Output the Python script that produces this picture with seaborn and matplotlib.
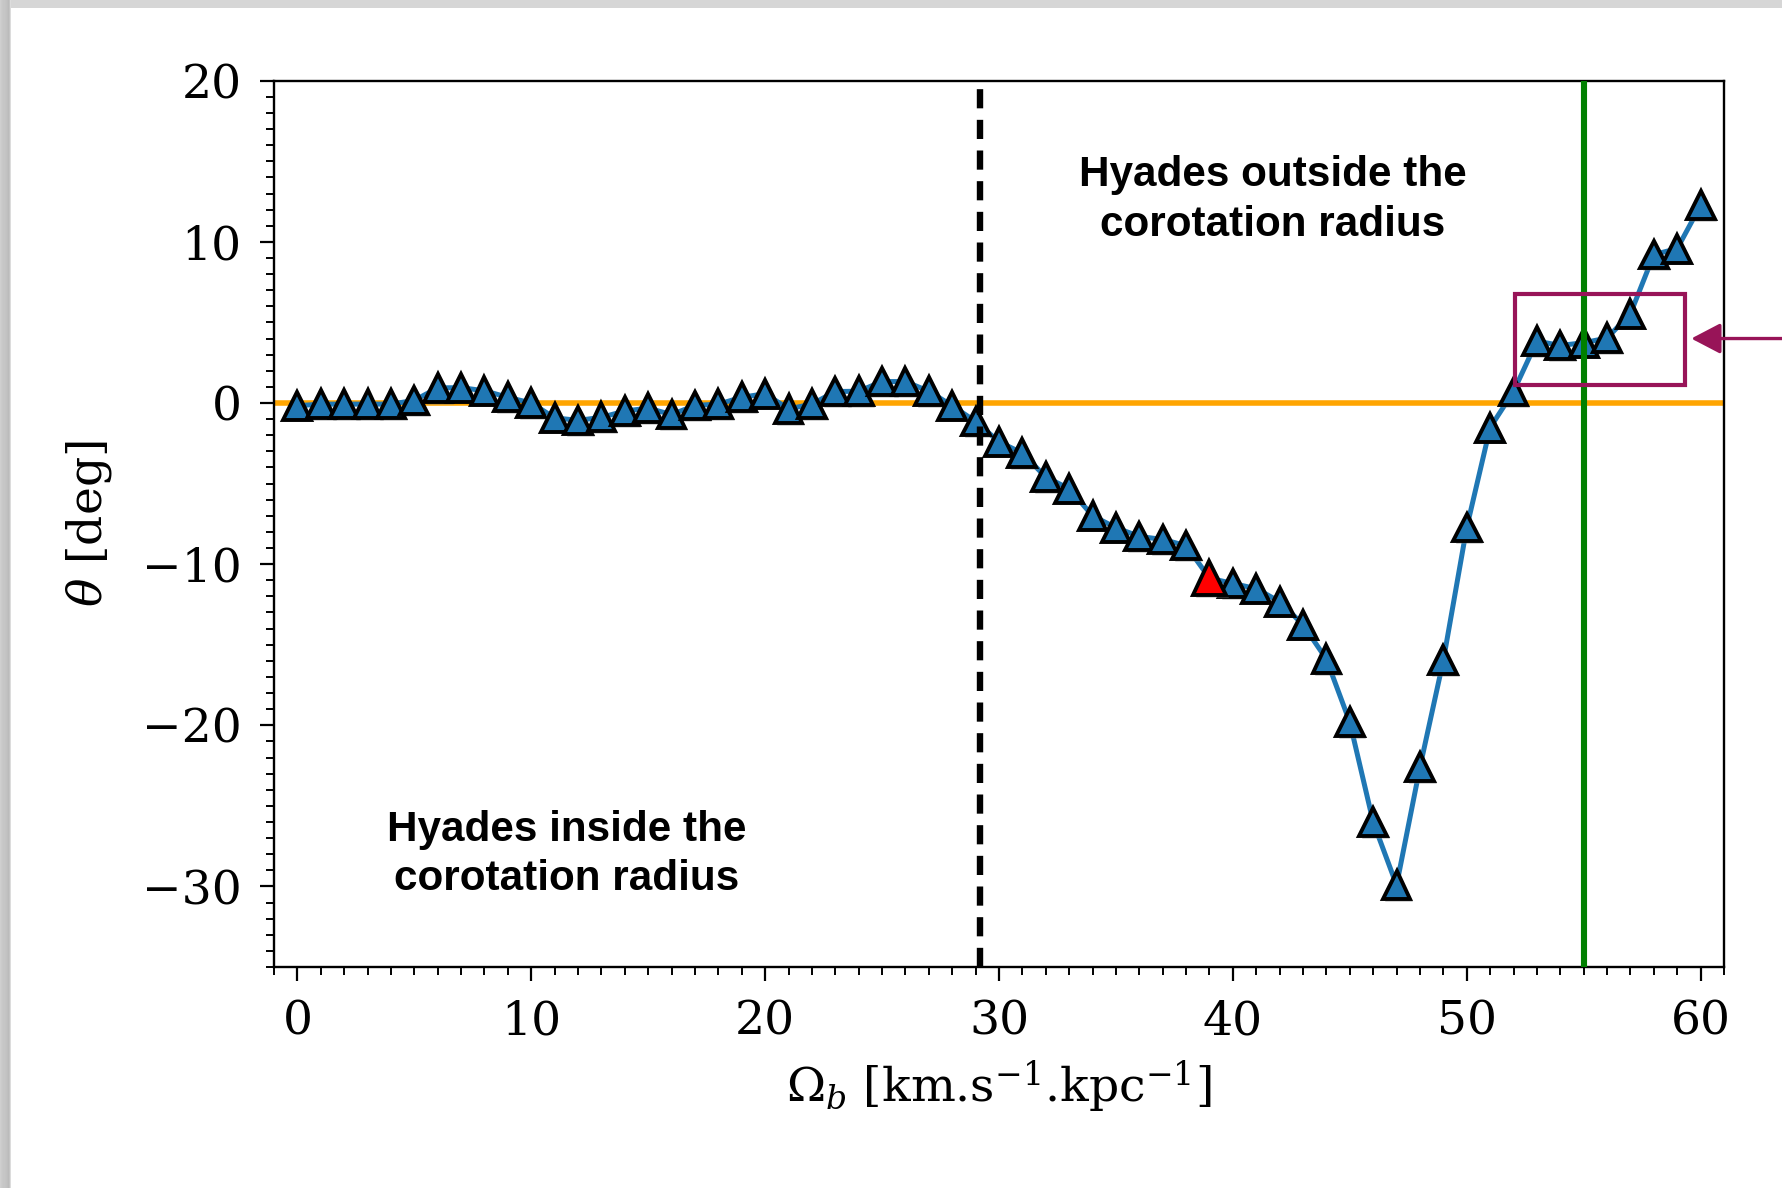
import matplotlib
matplotlib.use("Agg")
import numpy as np
import pandas as pd
import seaborn as sns
import matplotlib.pyplot as plt
import matplotlib.patheffects as pe
from matplotlib.patches import Rectangle
from matplotlib.ticker import MultipleLocator

# Pattern speed of the bar (km/s/kpc) and resulting angle theta (deg)
omega_b = list(range(61))
theta = [-0.17, -0.07, -0.07, -0.07, -0.07, 0.16, 0.94, 0.95, 0.76, 0.35,
         0.0, -0.92, -1.08, -0.89, -0.5, -0.32, -0.72, -0.15, -0.07, 0.35,
         0.58, -0.37, -0.07, 0.71, 0.73, 1.33, 1.33, 0.73, -0.17, -1.15,
         -2.41, -3.11, -4.6, -5.32, -7.0, -7.74, -8.28, -8.47, -8.85, -10.87,
         -11.2, -11.52, -12.33, -13.76, -15.9, -19.81, -26.01, -29.92, -22.6, -15.97,
         -7.73, -1.53, 0.71, 3.84, 3.57, 3.74, 4.03, 5.54, 9.21, 9.58,
         12.27]

highlight_omega = [39]
highlight_theta = [-10.87]

corotation_omega = 29.17
reference_omega = 55.0

# highlighted plateau region
box_x = [52.05, 59.35]
box_y = [1.13, 6.77]
arrow_tip = (59.6, 4.0)

df = pd.DataFrame({"omega": omega_b, "theta": theta})
hl = pd.DataFrame({"omega": highlight_omega, "theta": highlight_theta})

sns.set_style("ticks")
plt.rcParams["font.family"] = ["DejaVu Serif"]
plt.rcParams["mathtext.fontset"] = "dejavuserif"
plt.rcParams["axes.edgecolor"] = "black"
plt.rcParams["xtick.color"] = "black"
plt.rcParams["ytick.color"] = "black"
plt.rcParams["axes.labelcolor"] = "black"
plt.rcParams["text.color"] = "black"

W, H = 1782, 1188
fig = plt.figure(figsize=(W / 200, H / 200), dpi=200)
ax = fig.add_axes([274 / W, 1 - 967 / H, (1724 - 274) / W, (967 - 80.7) / H])

maroon = "#981458"
blue = "#1f77b4"
shadow = [pe.SimplePatchShadow(offset=(1.0, -1.0), shadow_rgbFace="gray", alpha=0.35),
          pe.Normal()]

ax.axhline(0, color="orange", lw=2.0, zorder=1)

sns.lineplot(data=df, x="omega", y="theta", ax=ax, color=blue, lw=1.8,
             zorder=2, legend=False)
sns.lineplot(data=df, x="omega", y="theta", ax=ax, color=blue, linestyle="none",
             marker="^", ms=10, mfc=blue, mec="black", mew=1.4,
             path_effects=shadow, zorder=3, legend=False)
sns.lineplot(data=hl, x="omega", y="theta", ax=ax, color="red", linestyle="none",
             marker="^", ms=12, mfc="red", mec="black", mew=1.4,
             path_effects=shadow, zorder=3.5, legend=False)

ax.axvline(corotation_omega, color="black", lw=2.3, ls=(0, (3.0, 1.8)), zorder=4)
ax.axvline(reference_omega, color="green", lw=2.2, zorder=4)

ax.add_patch(Rectangle((box_x[0], box_y[0]), box_x[1] - box_x[0], box_y[1] - box_y[0],
                       fill=False, ec=maroon, lw=1.5, zorder=5))
ax.annotate("", xy=arrow_tip, xytext=(66.0, arrow_tip[1]),
            arrowprops=dict(arrowstyle="-|>,head_length=0.9,head_width=0.47",
                            color=maroon, lw=1.2, shrinkA=0, shrinkB=0),
            annotation_clip=False, zorder=6)

txt_kw = dict(ha="center", va="center", fontsize=15.2, fontweight="bold",
              family=["Liberation Sans", "DejaVu Sans"], linespacing=1.3)
ax.text(41.7, 12.6, "Hyades outside the\ncorotation radius", **txt_kw)
ax.text(11.5, -28.0, "Hyades inside the\ncorotation radius", **txt_kw)

ax.set_xlim(-1, 61)
ax.set_ylim(-35, 20)
ax.xaxis.set_major_locator(MultipleLocator(10))
ax.yaxis.set_major_locator(MultipleLocator(10))
ax.xaxis.set_minor_locator(MultipleLocator(1))
ax.yaxis.set_minor_locator(MultipleLocator(1))
ax.tick_params(which="major", direction="out", length=4.9, width=0.8,
               labelsize=17, pad=6.7)
ax.tick_params(which="minor", direction="out", length=2.8, width=0.7)
ax.tick_params(which="both", top=False, right=False)
for s in ax.spines.values():
    s.set_linewidth(0.85)
    s.set_color("black")

ax.set_xlabel(r"$\Omega_b$ [km.s$^{-1}$.kpc$^{-1}$]", fontsize=17, labelpad=5)
ax.set_ylabel(r"$\theta$ [deg]", fontsize=17, labelpad=10)

# window frame edges
fig.patches.append(Rectangle((0, 1 - 8 / H), 1, 8 / H, transform=fig.transFigure,
                             color="#d6d6d6", lw=0, zorder=-1))
for i, c in enumerate(["#cfcfcf", "#cbcbcb", "#c8c8c8", "#c6c6c6", "#c6c6c6",
                       "#c4c4c4", "#c2c2c2", "#bfbfbf", "#bbbbbb", "#c4c4c4", "#dcdcdc"]):
    fig.patches.append(Rectangle((i / W, 0), 1 / W, 1, transform=fig.transFigure,
                                 color=c, lw=0, zorder=-1))

fig.savefig("out.png", dpi=200)
